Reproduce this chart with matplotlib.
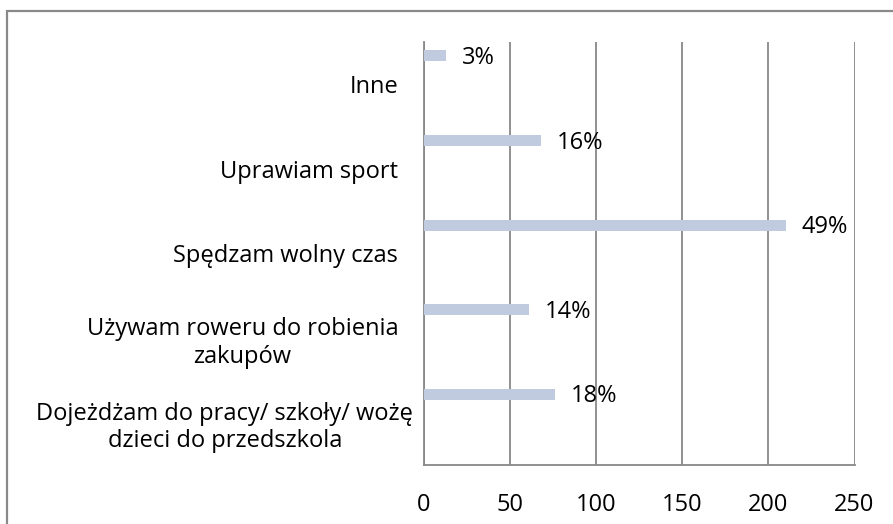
import matplotlib.pyplot as plt
import matplotlib.patches as patches
import matplotlib.transforms as mtransforms

# data (bottom to top)
categories = [
    "Dojeżdżam do pracy/ szkoły/ wożę\ndzieci do przedszkola",
    "Używam roweru do robienia\nzakupów",
    "Spędzam wolny czas",
    "Uprawiam sport",
    "Inne",
]
counts = [76, 61, 210, 68, 13]
percent_labels = ["18%", "14%", "49%", "16%", "3%"]
x_ticks = [0, 50, 100, 150, 200, 250]

plt.rcParams['font.family'] = ['Open Sans', 'DejaVu Sans']
FS = 17
W, H = 893, 524
fig = plt.figure(figsize=(W / 100, H / 100), dpi=100)
ax = fig.add_axes([424 / W, 1 - 465 / H, (854.5 - 424) / W, (465 - 42) / H])

pos = list(range(len(categories)))
bar_pos = [p + 0.335 for p in pos]
ax.barh(bar_pos, counts, height=0.13, color='#C0CBE0', zorder=3)

for y, v, lab in zip(bar_pos, counts, percent_labels):
    ax.annotate(lab, (v, y), xytext=(11.5, -1.5), textcoords='offset points',
                ha='left', va='center', fontsize=FS, color='black', zorder=4)

ax.set_xlim(0, 250)
ax.set_ylim(-0.5, len(categories) - 0.5)
ax.set_xticks(x_ticks)
ax.set_xticklabels([str(t) for t in x_ticks])
ax.set_yticks(pos)
ax.set_yticklabels(categories, multialignment='center', linespacing=1.2)
ax.tick_params(axis='x', length=0, pad=20, labelsize=FS)
ax.tick_params(axis='y', length=0, pad=18.5, labelsize=FS)

# the long label sticks out past the others
lbl = ax.get_yticklabels()[0]
lbl.set_transform(lbl.get_transform() + mtransforms.ScaledTranslation(15 / 100, 0, fig.dpi_scale_trans))

ax.grid(axis='x', color='#888888', linewidth=1.3, zorder=1)
for side in ['top', 'right']:
    ax.spines[side].set_visible(False)
for side in ['left', 'bottom']:
    ax.spines[side].set_color('#888888')
    ax.spines[side].set_linewidth(1.3)

# chart border (runs off the right and bottom edges)
border = patches.Rectangle((7 / W, -0.1), 1.2, 1.1 - 11 / H, transform=fig.transFigure,
                           fill=False, edgecolor='#898989', linewidth=1.6)
fig.patches.append(border)

fig.savefig("out.png", dpi=100)
